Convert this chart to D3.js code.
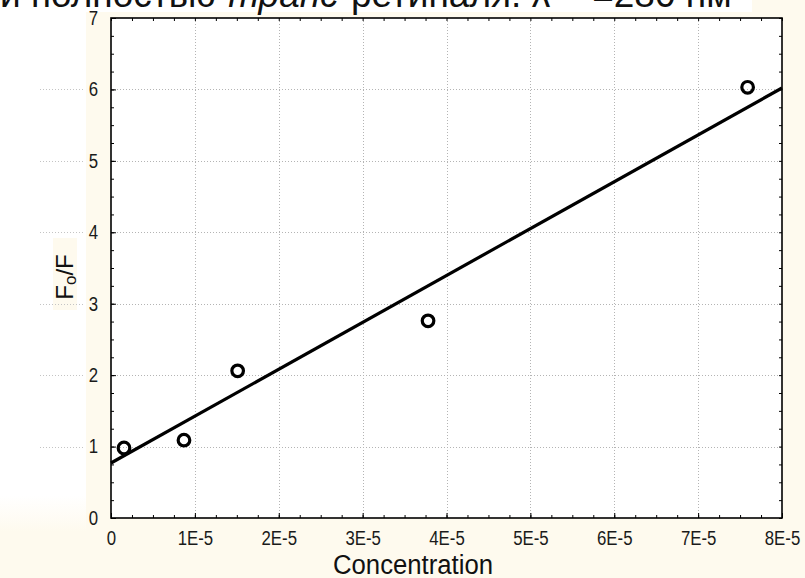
<!DOCTYPE html>
<html>
<head>
<meta charset="utf-8">
<script src="https://cdn.jsdelivr.net/npm/d3@7"></script>
<style>
  html, body { margin: 0; padding: 0; background: #fefaee; }
  svg { display: block; font-family: "Liberation Sans", Arial, sans-serif; }
</style>
</head>
<body>
<svg id="chart" width="805" height="578"></svg>
<script>
// Stern–Volmer data: quencher concentration vs F0/F
const concentration = [1.55e-6, 8.7e-6, 1.51e-5, 3.78e-5, 7.59e-5];
const ratioF0F = [0.98, 1.09, 2.06, 2.76, 6.03];

// Fitted straight line, end points over the x range
const fitX = [0, 8e-5];
const fitY = [0.77, 6.02];

const xTickValues = [0, 1e-5, 2e-5, 3e-5, 4e-5, 5e-5, 6e-5, 7e-5, 8e-5];
const xTickLabels = ["0", "1E-5", "2E-5", "3E-5", "4E-5", "5E-5", "6E-5", "7E-5", "8E-5"];
const yTickValues = [0, 1, 2, 3, 4, 5, 6, 7];
const yTickLabels = ["0", "1", "2", "3", "4", "5", "6", "7"];

const svg = d3.select("#chart");
const W = 805, H = 578;
const plot = { left: 111, right: 782, top: 18, bottom: 518 };

const x = d3.scaleLinear().domain([0, 8e-5]).range([plot.left, plot.right]);
const y = d3.scaleLinear().domain([0, 7]).range([plot.bottom, plot.top]);

// squeeze a text horizontally (narrow face look)
function narrow(sel, k) {
  sel.each(function () {
    const len = this.getComputedTextLength();
    if (len > 0) {
      d3.select(this).attr("textLength", len * k).attr("lengthAdjust", "spacingAndGlyphs");
    }
  });
}

// page backgrounds
svg.append("rect").attr("width", W).attr("height", H).attr("fill", "#fefaee");
svg.append("rect").attr("x", 0).attr("y", 0).attr("width", 752).attr("height", 12).attr("fill", "#ffffff");
const grad = svg.append("defs").append("linearGradient")
  .attr("id", "leftFade").attr("x1", 0).attr("y1", 0).attr("x2", 0).attr("y2", 1);
grad.append("stop").attr("offset", "0.93").attr("stop-color", "#ffffff");
grad.append("stop").attr("offset", "1").attr("stop-color", "#fefaee");
svg.append("rect").attr("x", 0).attr("y", 12).attr("width", 86).attr("height", 520).attr("fill", "url(#leftFade)");
svg.append("rect").attr("x", 53).attr("y", 238).attr("width", 24).attr("height", 72).attr("fill", "#fefaee");

// title line, partly above the page edge
const title = svg.append("text")
  .attr("x", 0).attr("y", 7)
  .attr("font-size", 37).attr("fill", "#111");
title.append("tspan").text("и полностью-");
title.append("tspan").attr("font-style", "italic").text("транс");
title.append("tspan").text("-ретиналя. λ");
title.append("tspan").attr("dx", 42).text("=280 нм");

// plot area
svg.append("rect")
  .attr("x", plot.left).attr("y", plot.top)
  .attr("width", plot.right - plot.left).attr("height", plot.bottom - plot.top)
  .attr("fill", "#ffffff");

// dotted grid
const grid = svg.append("g").attr("stroke", "#b4b4b4").attr("stroke-width", 1)
  .attr("stroke-dasharray", "1,2");
grid.selectAll(".gx").data(xTickValues.slice(1, -1)).join("line")
  .attr("x1", d => Math.round(x(d)) + 0.5).attr("x2", d => Math.round(x(d)) + 0.5)
  .attr("y1", plot.top).attr("y2", plot.bottom);
grid.selectAll(".gy").data(yTickValues.slice(1, -1)).join("line")
  .attr("x1", plot.left).attr("x2", plot.right)
  .attr("y1", d => Math.round(y(d)) + 0.5).attr("y2", d => Math.round(y(d)) + 0.5);
// grid continues faintly across the left margin
grid.selectAll(".gyl").data(yTickValues.slice(1, -1)).join("line")
  .attr("x1", 40).attr("x2", 84)
  .attr("y1", d => Math.round(y(d)) + 0.5).attr("y2", d => Math.round(y(d)) + 0.5)
  .attr("stroke", "#c4c4c4");

// axes: major ticks and labels, plus inward minor ticks on all four sides
const minorX = d3.range(0, 32 + 1).map(i => i * 2.5e-6);
const minorY = d3.range(0, 28 + 1).map(i => i * 0.25);

function styleAxis(g) {
  g.select(".domain").remove();
  g.selectAll(".tick line").attr("stroke", "#000").attr("stroke-width", 1);
  g.selectAll(".tick text")
    .attr("font-family", "'Liberation Sans', Arial, sans-serif")
    .attr("font-size", 20).attr("fill", "#1a1a1a");
}

const xAxisG = svg.append("g").attr("transform", `translate(0,${plot.bottom})`)
  .call(d3.axisBottom(x).tickValues(xTickValues)
    .tickFormat((d, i) => xTickLabels[i]).tickSize(-5).tickPadding(13))
  .call(styleAxis);
svg.append("g").attr("transform", `translate(0,${plot.bottom})`)
  .call(d3.axisBottom(x).tickValues(minorX).tickFormat("").tickSize(-3))
  .call(styleAxis);
svg.append("g").attr("transform", `translate(0,${plot.top})`)
  .call(d3.axisTop(x).tickValues(minorX).tickFormat("").tickSize(-3))
  .call(styleAxis);

const yAxisG = svg.append("g").attr("transform", `translate(${plot.left},0)`)
  .call(d3.axisLeft(y).tickValues(yTickValues)
    .tickFormat((d, i) => yTickLabels[i]).tickSize(-5).tickPadding(13))
  .call(styleAxis);
svg.append("g").attr("transform", `translate(${plot.left},0)`)
  .call(d3.axisLeft(y).tickValues(minorY).tickFormat("").tickSize(-3))
  .call(styleAxis);
svg.append("g").attr("transform", `translate(${plot.right},0)`)
  .call(d3.axisRight(y).tickValues(minorY).tickFormat("").tickSize(-3))
  .call(styleAxis);

xAxisG.selectAll(".tick text").call(narrow, 0.84);
yAxisG.selectAll(".tick text").call(narrow, 0.84);

// frame
svg.append("rect")
  .attr("x", plot.left).attr("y", plot.top)
  .attr("width", plot.right - plot.left).attr("height", plot.bottom - plot.top)
  .attr("fill", "none").attr("stroke", "#000").attr("stroke-width", 1.6);

// fitted line
svg.append("path")
  .datum(fitX.map((v, i) => [v, fitY[i]]))
  .attr("d", d3.line().x(d => x(d[0])).y(d => y(d[1])))
  .attr("fill", "none").attr("stroke", "#000").attr("stroke-width", 3.2);

// data points
svg.append("g").selectAll("circle")
  .data(concentration.map((c, i) => [c, ratioF0F[i]]))
  .join("circle")
  .attr("cx", d => x(d[0])).attr("cy", d => y(d[1]))
  .attr("r", 5.8).attr("fill", "none")
  .attr("stroke", "#000").attr("stroke-width", 3.2);

// axis titles
svg.append("text")
  .attr("x", 413).attr("y", 574)
  .attr("text-anchor", "middle").attr("font-size", 27).attr("fill", "#111")
  .attr("textLength", 160).attr("lengthAdjust", "spacingAndGlyphs")
  .text("Concentration");

const yTitle = svg.append("text")
  .attr("transform", "translate(73,277) rotate(-90)")
  .attr("text-anchor", "middle").attr("font-size", 24).attr("fill", "#111");
yTitle.append("tspan").text("F");
yTitle.append("tspan").attr("font-size", 17).attr("dy", 3).text("o");
yTitle.append("tspan").attr("dy", -3).text("/F");
</script>
</body>
</html>
